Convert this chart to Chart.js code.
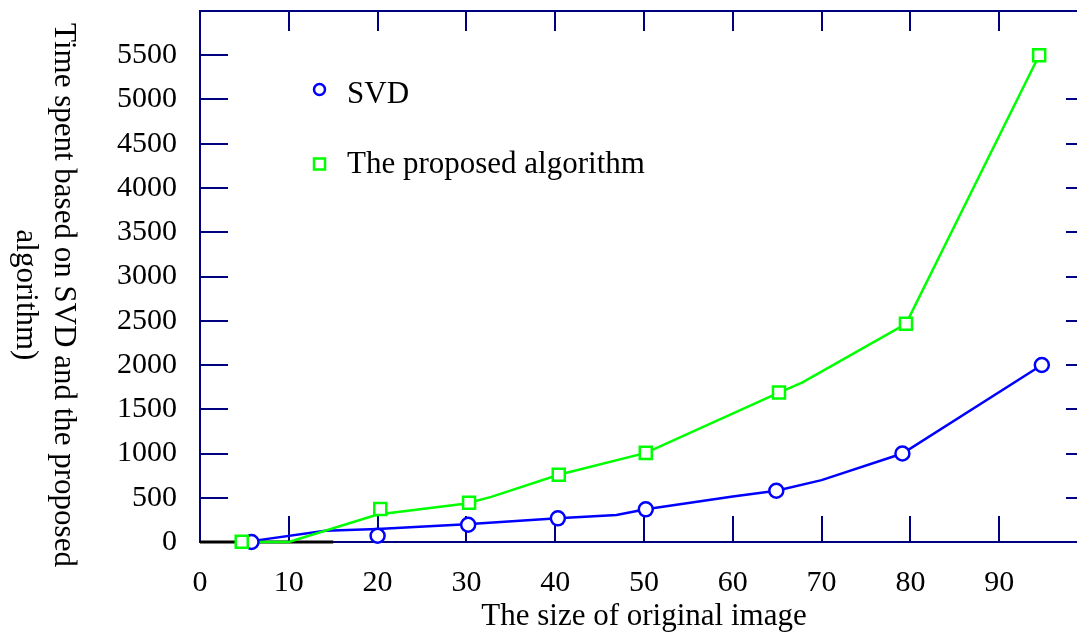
<!DOCTYPE html>
<html><head><meta charset="utf-8">
<script src="https://cdn.jsdelivr.net/npm/chart.js@4.4.0/dist/chart.umd.min.js"></script>
<style>
html,body{margin:0;padding:0;overflow:hidden;background:#fff;width:1077px;height:637px}
canvas{position:absolute;left:0;top:0}
</style>
</head><body>
<canvas id="c" width="1100" height="637" style="width:1100px;height:637px"></canvas>
<script>
// ---- data ----
const seriesNames = ['SVD', 'The proposed algorithm'];
const svdX = [5.8, 20, 30.2, 40.3, 50.2, 64.9, 79.1, 94.8];
const svdY = [0, 71, 195, 267, 369, 579, 1000, 2000];
const propX = [4.7, 20.3, 30.3, 40.4, 50.2, 65.2, 79.5, 94.5];
const propY = [3, 372, 443, 760, 1007, 1688, 2466, 5500];
// connecting curves (drawn separately, as in the original plot)
const svdLineX = [5.8, 14.1, 20, 30, 40.3, 46.9, 50.2, 60, 64.9, 70, 79.1, 94.8];
const svdLineY = [10, 127, 147, 200, 267, 304, 369, 515, 579, 699, 1000, 2000];
const propLineX = [4.7, 10, 20, 30, 32.8, 40.4, 50.2, 65.2, 67.8, 79.5, 94.5];
const propLineY = [0, 0, 310, 435, 510, 760, 1007, 1688, 1800, 2466, 5500];
const baseLineX = [0, 15];
const baseLineY = [0, 0];
const xTickLabels = ['0','10','20','30','40','50','60','70','80','90'];
const yTickLabels = ['0','500','1000','1500','2000','2500','3000','3500','4000','4500','5000','5500'];
const xTitle = 'The size of original image';
const yTitleLines = ['Time spent based on SVD and the proposed', 'algorithm)'];

const NAVY = '#000080', BLUE = '#0000ff', GREEN = '#00ff00';
const FONT = '"Liberation Serif", "Times New Roman", serif';

const pts = (xs, ys) => xs.map((x, i) => ({x, y: ys[i]}));

const framePlugin = {
  id: 'framePlugin',
  beforeDatasetsDraw(chart) {
    const {ctx, chartArea: a, scales} = chart;
    ctx.save();
    ctx.strokeStyle = NAVY;
    ctx.lineWidth = 2;
    ctx.beginPath(); ctx.moveTo(a.left - 1, a.top); ctx.lineTo(a.right + 1, a.top); ctx.stroke();
    scales.x.ticks.forEach(t => {
      if (t.value <= 0 || t.value >= 100) return;
      const px = Math.round(scales.x.getPixelForValue(t.value));
      ctx.beginPath(); ctx.moveTo(px, a.bottom); ctx.lineTo(px, a.bottom - 26); ctx.stroke();
      ctx.beginPath(); ctx.moveTo(px, a.top); ctx.lineTo(px, a.top + 20); ctx.stroke();
    });
    scales.y.ticks.forEach(t => {
      if (t.value <= 0 || t.value >= 6000) return;
      const py = Math.round(scales.y.getPixelForValue(t.value));
      ctx.beginPath(); ctx.moveTo(a.left, py); ctx.lineTo(a.left + 28, py); ctx.stroke();
    });
    scales.y2.ticks.forEach(t => {
      if (t.value < 500 || t.value > 5500) return;
      const py = Math.round(scales.y2.getPixelForValue(t.value));
      ctx.beginPath(); ctx.moveTo(a.right, py); ctx.lineTo(a.right - 22, py); ctx.stroke();
    });
    ctx.restore();
  },
  afterDraw(chart) {
    const {ctx, chartArea: a} = chart;
    ctx.save();
    ctx.fillStyle = '#000';
    ctx.font = '31px ' + FONT;
    ctx.textAlign = 'center';
    ctx.textBaseline = 'alphabetic';
    ctx.fillText(xTitle, (a.left + a.right) / 2, 625);
    const cy = 295;
    [55, 17].forEach((bx, i) => {
      ctx.save();
      ctx.translate(bx, cy);
      ctx.rotate(Math.PI / 2);
      ctx.textAlign = 'center';
      ctx.textBaseline = 'alphabetic';
      ctx.fillText(yTitleLines[i], 0, 0);
      ctx.restore();
    });
    ctx.textAlign = 'left';
    ctx.fillText(seriesNames[0], 347, 103);
    ctx.fillText(seriesNames[1], 347, 173);
    ctx.lineWidth = 2.5;
    ctx.strokeStyle = BLUE;
    ctx.fillStyle = '#fff';
    ctx.beginPath(); ctx.arc(319.5, 89.5, 5.5, 0, Math.PI * 2); ctx.fill(); ctx.stroke();
    ctx.strokeStyle = GREEN;
    ctx.beginPath(); ctx.rect(314, 158.5, 11, 11); ctx.fill(); ctx.stroke();
    ctx.restore();
  }
};

const noPad = s => { s.paddingTop = 0; s.paddingBottom = 0; s.paddingLeft = 0; s.paddingRight = 0; };

new Chart(document.getElementById('c'), {
  type: 'scatter',
  data: {
    datasets: [
      { label: 'base', data: pts(baseLineX, baseLineY), showLine: true, borderColor: '#000', borderWidth: 3,
        pointRadius: 0, order: 5, clip: false },
      { label: seriesNames[0] + ' line', data: pts(svdLineX, svdLineY), showLine: true, borderColor: BLUE,
        borderWidth: 2.5, pointRadius: 0, order: 4, clip: false },
      { label: seriesNames[1] + ' line', data: pts(propLineX, propLineY), showLine: true, borderColor: GREEN,
        borderWidth: 2.5, pointRadius: 0, order: 3, clip: false },
      { label: seriesNames[0], data: pts(svdX, svdY), showLine: false, pointStyle: 'circle', pointRadius: 7,
        pointBorderColor: BLUE, pointBackgroundColor: '#fff', pointBorderWidth: 2.5, order: 2, clip: false },
      { label: seriesNames[1], data: pts(propX, propY), showLine: false, pointStyle: 'rect', pointRadius: 8.5,
        pointBorderColor: GREEN, pointBackgroundColor: '#fff', pointBorderWidth: 2.5, order: 1, clip: false }
    ]
  },
  options: {
    responsive: false,
    animation: false,
    devicePixelRatio: 1,
    layout: { padding: { top: 10, right: 12, left: 0, bottom: 0 } },
    plugins: { legend: { display: false }, tooltip: { enabled: false } },
    elements: { line: { tension: 0 } },
    scales: {
      x: {
        type: 'linear', min: 0, max: 100,
        afterFit: s => { s.height = 95; noPad(s); },
        grid: { drawOnChartArea: false, drawTicks: false },
        border: { display: true, color: NAVY, width: 2 },
        ticks: {
          stepSize: 10, padding: 23, color: '#000', maxRotation: 0, autoSkip: false,
          font: { family: FONT, size: 30, lineHeight: 1.2 },
          callback: (v) => { const i = xTickLabels.indexOf(String(v)); return i >= 0 ? xTickLabels[i] : null; }
        }
      },
      y: {
        type: 'linear', min: 0, max: 6000,
        afterFit: s => { s.width = 200; noPad(s); },
        grid: { drawOnChartArea: false, drawTicks: false },
        border: { display: true, color: NAVY, width: 2 },
        ticks: {
          stepSize: 500, padding: 23, color: '#000', autoSkip: false,
          font: { family: FONT, size: 30, lineHeight: 1.2 },
          callback: (v) => { const i = yTickLabels.indexOf(String(v)); return i >= 0 ? yTickLabels[i] : null; }
        }
      },
      y2: {
        type: 'linear', position: 'right', min: 68, max: 6068,
        afterFit: s => { s.width = 0; noPad(s); },
        grid: { drawOnChartArea: false, drawTicks: false },
        border: { display: true, color: NAVY, width: 2 },
        ticks: { display: false, stepSize: 500, includeBounds: false }
      }
    }
  },
  plugins: [framePlugin]
});
</script>
</body></html>
